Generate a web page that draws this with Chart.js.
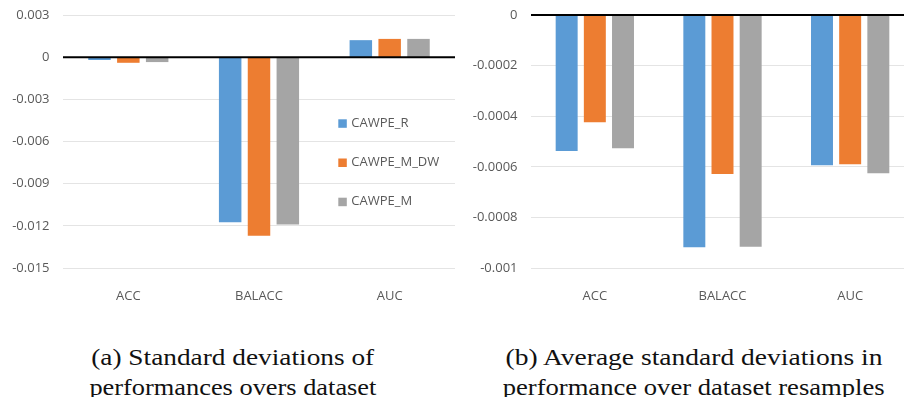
<!DOCTYPE html>
<html>
<head>
<meta charset="utf-8">
<script src="https://cdn.jsdelivr.net/npm/chart.js@4.4.0/dist/chart.umd.min.js"></script>
<style>
html, body { margin: 0; padding: 0; background: #fff; width: 904px; height: 397px; overflow: hidden; }
.box { position: absolute; top: 0; height: 300px; }
#boxA { left: 0; width: 460px; }
#boxB { left: 450px; width: 470px; }
.cap { position: absolute; width: 460px; text-align: center; font-family: "Liberation Serif", serif;
       font-size: 23.5px; line-height: 23.5px; color: #111; white-space: nowrap; }
.cap span { display: inline-block; transform-origin: center top; }
</style>
</head>
<body>
<div class="box" id="boxA"><canvas id="chartA" width="460" height="300"></canvas></div>
<div class="box" id="boxB"><canvas id="chartB" width="470" height="300"></canvas></div>

<div class="cap" style="left:3px; top:346px;"><span data-w="283">(a) Standard deviations of</span></div>
<div class="cap" style="left:3px; top:376px;"><span data-w="287">performances overs dataset</span></div>
<div class="cap" style="left:464px; top:346px;"><span data-w="377">(b) Average standard deviations in</span></div>
<div class="cap" style="left:464px; top:376px;"><span data-w="382">performance over dataset resamples</span></div>

<script>
// datos
const categorias = ['ACC', 'BALACC', 'AUC'];
const series = ['CAWPE_R', 'CAWPE_M_DW', 'CAWPE_M'];
const colores = ['#5B9BD5', '#ED7D31', '#A5A5A5'];

// (a) desviaciones estandar sobre datasets
const a_cawpeR   = [-0.0002, -0.01174, 0.00121];
const a_cawpeMDW = [-0.0004, -0.0127, 0.0013];
const a_cawpeM   = [-0.00035, -0.0119, 0.0013];
const a_ticks = ['-0.015', '-0.012', '-0.009', '-0.006', '-0.003', '0', '0.003'];

// (b) desviaciones medias sobre resamples
const b_cawpeR   = [-0.000538, -0.000918, -0.000594];
const b_cawpeMDW = [-0.000424, -0.000628, -0.00059];
const b_cawpeM   = [-0.000527, -0.000916, -0.000625];
const b_ticks = ['-0.001', '-0.0008', '-0.0006', '-0.0004', '-0.0002', '0'];

const gris = '#595959';
const fuente = { family: 'Open Sans', size: 13 };

const lineaCero = {
    id: 'lineaCero',
    afterDatasetsDraw(chart) {
        const { ctx, chartArea, scales } = chart;
        const y = scales.y.getPixelForValue(0);
        ctx.save();
        ctx.strokeStyle = '#000';
        ctx.lineWidth = 2;
        ctx.beginPath();
        ctx.moveTo(chartArea.left, y);
        ctx.lineTo(chartArea.right, y);
        ctx.stroke();
        ctx.restore();
    }
};

const leyendaInterna = {
    id: 'leyendaInterna',
    afterDraw(chart, args, opts) {
        if (!opts.mostrar) return;
        const { ctx, chartArea } = chart;
        ctx.save();
        ctx.font = '13px "Open Sans"';
        ctx.textBaseline = 'middle';
        chart.data.datasets.forEach(function (ds, i) {
            const x = chartArea.left + opts.x;
            const y = chartArea.top + opts.y + i * opts.gap;
            ctx.fillStyle = ds.backgroundColor;
            ctx.fillRect(x, y - 4, 8.5, 8.5);
            ctx.fillStyle = gris;
            ctx.fillText(ds.label, x + 13, y);
        });
        ctx.restore();
    }
};

function crearGrafico(id, valores, min, max, paso, etiquetas, anchoY, padRight, leyenda) {
    const ctx = document.getElementById(id).getContext('2d');
    return new Chart(ctx, {
        type: 'bar',
        data: {
            labels: categorias,
            datasets: series.map(function (s, i) {
                return {
                    label: s,
                    data: valores[i],
                    backgroundColor: colores[i],
                    borderWidth: 0,
                    categoryPercentage: 0.662,
                    barPercentage: 0.78
                };
            })
        },
        options: {
            responsive: false,
            animation: false,
            devicePixelRatio: 1,
            layout: { padding: { top: 15, right: padRight, bottom: 0, left: 0 } },
            plugins: {
                legend: { display: false },
                tooltip: { enabled: false },
                leyendaInterna: { mostrar: leyenda, x: 275.3, y: 108.3, gap: 39.2 }
            },
            scales: {
                x: {
                    grid: { display: false },
                    border: { display: false },
                    ticks: { color: gris, font: fuente, padding: 12 },
                    afterFit: function (s) { s.height = 32; s.paddingLeft = 0; s.paddingRight = 0; }
                },
                y: {
                    min: min,
                    max: max,
                    grid: { color: '#e4e4e4', lineWidth: 1, drawTicks: false },
                    border: { display: false },
                    ticks: {
                        stepSize: paso,
                        color: gris,
                        font: fuente,
                        padding: 13.5,
                        callback: function (v, i) { return etiquetas[i]; }
                    },
                    afterFit: function (s) { s.width = anchoY; s.paddingTop = 0; s.paddingBottom = 0; }
                }
            }
        },
        plugins: [lineaCero, leyendaInterna]
    });
}

crearGrafico('chartA', [a_cawpeR, a_cawpeMDW, a_cawpeM], -0.015, 0.003, 0.003, a_ticks, 63, 5, true);
crearGrafico('chartB', [b_cawpeR, b_cawpeMDW, b_cawpeM], -0.001, 0, 0.0002, b_ticks, 81, 6, false);

// ajustar el ancho de los pies de figura
document.querySelectorAll('.cap span').forEach(function (el) {
    const w = el.getBoundingClientRect().width;
    el.style.transform = 'scaleX(' + (parseFloat(el.dataset.w) / w) + ')';
});
</script>
</body>
</html>
